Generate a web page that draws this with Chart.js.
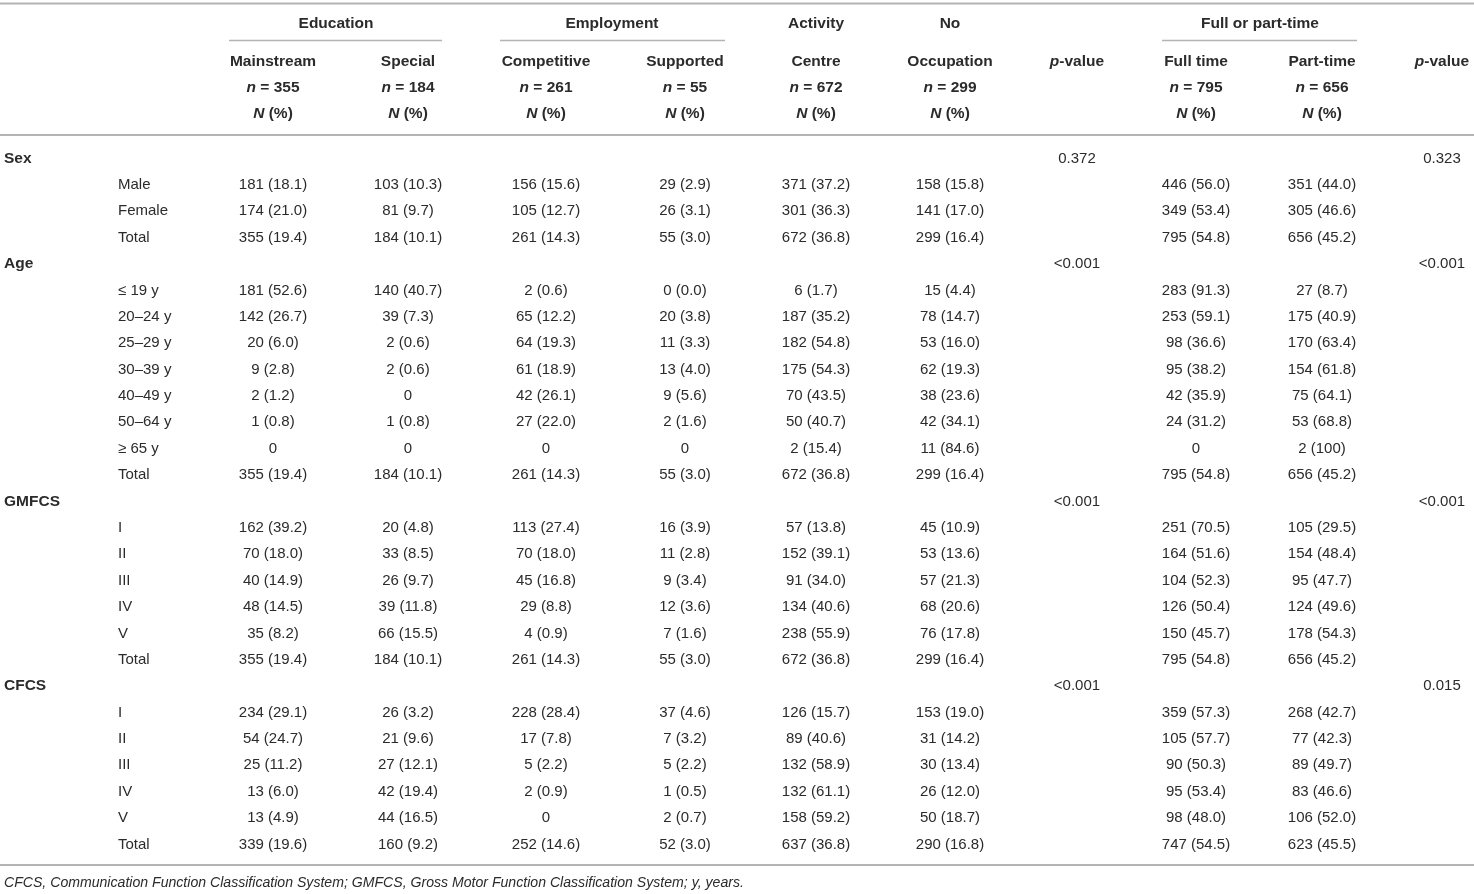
<!DOCTYPE html>
<html>
<head>
<meta charset="utf-8">
<title>Occupation by sex, age, GMFCS and CFCS</title>
<script src="https://cdn.jsdelivr.net/npm/chart.js@4.4.1/dist/chart.umd.min.js"></script>
<style>
  html, body { margin: 0; padding: 0; background: #fff; }
  canvas { display: block; }
</style>
</head>
<body>
<canvas id="tableChart" width="1474" height="894"></canvas>
<script>
// Row groups and their sub rows
const groupLabels = ['Sex', 'Age', 'GMFCS', 'CFCS'];
const sexRows = ['Male', 'Female', 'Total'];
const ageRows = ['\u2264 19 y', '20\u201324 y', '25\u201329 y', '30\u201339 y', '40\u201349 y', '50\u201364 y', '\u2265 65 y', 'Total'];
const gmfcsRows = ['I', 'II', 'III', 'IV', 'V', 'Total'];
const cfcsRows = ['I', 'II', 'III', 'IV', 'V', 'Total'];

// Header texts
const groupHeads = ['Education', 'Employment', 'Activity', 'No', 'Full or part-time'];
const colHeads = ['Mainstream', 'Special', 'Competitive', 'Supported', 'Centre', 'Occupation', 'p-value', 'Full time', 'Part-time', 'p-value'];
const colN = [355, 184, 261, 55, 672, 299, null, 795, 656, null];

// Cell values, one array per column (sub rows only, top to bottom)
const mainstream = ['181 (18.1)', '174 (21.0)', '355 (19.4)', '181 (52.6)', '142 (26.7)', '20 (6.0)', '9 (2.8)', '2 (1.2)', '1 (0.8)', '0', '355 (19.4)', '162 (39.2)', '70 (18.0)', '40 (14.9)', '48 (14.5)', '35 (8.2)', '355 (19.4)', '234 (29.1)', '54 (24.7)', '25 (11.2)', '13 (6.0)', '13 (4.9)', '339 (19.6)'];
const special = ['103 (10.3)', '81 (9.7)', '184 (10.1)', '140 (40.7)', '39 (7.3)', '2 (0.6)', '2 (0.6)', '0', '1 (0.8)', '0', '184 (10.1)', '20 (4.8)', '33 (8.5)', '26 (9.7)', '39 (11.8)', '66 (15.5)', '184 (10.1)', '26 (3.2)', '21 (9.6)', '27 (12.1)', '42 (19.4)', '44 (16.5)', '160 (9.2)'];
const competitive = ['156 (15.6)', '105 (12.7)', '261 (14.3)', '2 (0.6)', '65 (12.2)', '64 (19.3)', '61 (18.9)', '42 (26.1)', '27 (22.0)', '0', '261 (14.3)', '113 (27.4)', '70 (18.0)', '45 (16.8)', '29 (8.8)', '4 (0.9)', '261 (14.3)', '228 (28.4)', '17 (7.8)', '5 (2.2)', '2 (0.9)', '0', '252 (14.6)'];
const supported = ['29 (2.9)', '26 (3.1)', '55 (3.0)', '0 (0.0)', '20 (3.8)', '11 (3.3)', '13 (4.0)', '9 (5.6)', '2 (1.6)', '0', '55 (3.0)', '16 (3.9)', '11 (2.8)', '9 (3.4)', '12 (3.6)', '7 (1.6)', '55 (3.0)', '37 (4.6)', '7 (3.2)', '5 (2.2)', '1 (0.5)', '2 (0.7)', '52 (3.0)'];
const activityCentre = ['371 (37.2)', '301 (36.3)', '672 (36.8)', '6 (1.7)', '187 (35.2)', '182 (54.8)', '175 (54.3)', '70 (43.5)', '50 (40.7)', '2 (15.4)', '672 (36.8)', '57 (13.8)', '152 (39.1)', '91 (34.0)', '134 (40.6)', '238 (55.9)', '672 (36.8)', '126 (15.7)', '89 (40.6)', '132 (58.9)', '132 (61.1)', '158 (59.2)', '637 (36.8)'];
const noOccupation = ['158 (15.8)', '141 (17.0)', '299 (16.4)', '15 (4.4)', '78 (14.7)', '53 (16.0)', '62 (19.3)', '38 (23.6)', '42 (34.1)', '11 (84.6)', '299 (16.4)', '45 (10.9)', '53 (13.6)', '57 (21.3)', '68 (20.6)', '76 (17.8)', '299 (16.4)', '153 (19.0)', '31 (14.2)', '30 (13.4)', '26 (12.0)', '50 (18.7)', '290 (16.8)'];
const fullTime = ['446 (56.0)', '349 (53.4)', '795 (54.8)', '283 (91.3)', '253 (59.1)', '98 (36.6)', '95 (38.2)', '42 (35.9)', '24 (31.2)', '0', '795 (54.8)', '251 (70.5)', '164 (51.6)', '104 (52.3)', '126 (50.4)', '150 (45.7)', '795 (54.8)', '359 (57.3)', '105 (57.7)', '90 (50.3)', '95 (53.4)', '98 (48.0)', '747 (54.5)'];
const partTime = ['351 (44.0)', '305 (46.6)', '656 (45.2)', '27 (8.7)', '175 (40.9)', '170 (63.4)', '154 (61.8)', '75 (64.1)', '53 (68.8)', '2 (100)', '656 (45.2)', '105 (29.5)', '154 (48.4)', '95 (47.7)', '124 (49.6)', '178 (54.3)', '656 (45.2)', '268 (42.7)', '77 (42.3)', '89 (49.7)', '83 (46.6)', '106 (52.0)', '623 (45.5)'];

// p-values, one per row group
const pOccupation = ['0.372', '<0.001', '<0.001', '<0.001'];
const pWorkTime = ['0.323', '<0.001', '<0.001', '0.015'];

const footnote = 'CFCS, Communication Function Classification System; GMFCS, Gross Motor Function Classification System; y, years.';

// ---- layout (pixels of the 1474x894 page) ----
const W = 1474, H = 894;
const ROW_TOP = 157, ROW_STEP = 26.385;
const TEXT_DY = 1.5;
const colX = [273, 408, 546, 685, 816, 950, 1077, 1196, 1322, 1442];
const groupX = [336, 612, 816, 950, 1260];
const groupLines = [[229, 442], [500, 725], [1162, 1357]];
const GROUP_X = 4, ITEM_X = 118;
const FONT = '"Liberation Sans", Arial, Helvetica, sans-serif';
const INK = '#2b2b2b';
const RULE = '#b4b4b4';

function rowOf(px) { return (px - ROW_TOP) / ROW_STEP; }

// build row structure: group rows then their items
const subRowSets = [sexRows, ageRows, gmfcsRows, cfcsRows];
const groupRowIdx = [];
const itemRowIdx = [];
const itemLabels = [];
let r = 0;
groupLabels.forEach((g, gi) => {
    groupRowIdx.push(r++);
    subRowSets[gi].forEach(lbl => {
        itemRowIdx.push(r++);
        itemLabels.push(lbl);
    });
});

function textSet(labels, xs, ys, font, align, extra) {
    return Object.assign({
        data: labels.map((t, i) => ({
            x: Array.isArray(xs) ? xs[i] : xs,
            y: Array.isArray(ys) ? ys[i] : ys,
            label: t
        })).filter(d => d.label !== null),
        font: font,
        align: align || 'center',
        pointRadius: 0,
        showLine: false
    }, extra || {});
}

const valueCols = [mainstream, special, competitive, supported, activityCentre, noOccupation, null, fullTime, partTime, null];
const BOLD = 'bold 15.5px ' + FONT;
const PLAIN = '15px ' + FONT;

const datasets = [];
// header
datasets.push(textSet(groupHeads, groupX, rowOf(22), BOLD));
datasets.push(textSet(colHeads, colX, rowOf(60), BOLD, 'center', { lead: 'p' }));
datasets.push(textSet(colN.map(n => n === null ? null : 'n = ' + n), colX, rowOf(86), BOLD, 'center', { lead: 'n' }));
datasets.push(textSet(colN.map(n => n === null ? null : 'N (%)'), colX, rowOf(112), BOLD, 'center', { lead: 'N' }));
// row labels
datasets.push(textSet(groupLabels, GROUP_X, groupRowIdx, BOLD, 'left'));
datasets.push(textSet(itemLabels, ITEM_X, itemRowIdx, PLAIN, 'left'));
// value columns
valueCols.forEach((col, ci) => {
    if (col) datasets.push(textSet(col, colX[ci], itemRowIdx, PLAIN));
});
datasets.push(textSet(pOccupation, colX[6], groupRowIdx, PLAIN));
datasets.push(textSet(pWorkTime, colX[9], groupRowIdx, PLAIN));
// footnote
datasets.push(textSet([footnote], GROUP_X, rowOf(882), 'italic 14.1px ' + FONT, 'left'));

// draws rules and all cell texts at the positions the scales give
const tablePlugin = {
    id: 'tablePlugin',
    beforeDatasetsDraw(chart) {
        const ctx = chart.ctx;
        const xs = chart.scales.x, ys = chart.scales.y;
        ctx.save();
        ctx.strokeStyle = RULE;
        ctx.lineWidth = 2;
        [3.5, 135, 865].forEach(py => {
            const y = ys.getPixelForValue(rowOf(py));
            ctx.beginPath();
            ctx.moveTo(xs.getPixelForValue(0), y);
            ctx.lineTo(xs.getPixelForValue(W), y);
            ctx.stroke();
        });
        ctx.lineWidth = 1.5;
        groupLines.forEach(([a, b]) => {
            const y = ys.getPixelForValue(rowOf(40.5));
            ctx.beginPath();
            ctx.moveTo(xs.getPixelForValue(a), y);
            ctx.lineTo(xs.getPixelForValue(b), y);
            ctx.stroke();
        });
        ctx.restore();
    },
    afterDatasetsDraw(chart) {
        const ctx = chart.ctx;
        ctx.save();
        ctx.fillStyle = INK;
        ctx.textBaseline = 'middle';
        chart.data.datasets.forEach((ds, di) => {
            const meta = chart.getDatasetMeta(di);
            meta.data.forEach((el, i) => {
                const text = ds.data[i].label;
                const y = el.y + TEXT_DY;
                if (ds.lead && text.charAt(0) === ds.lead) {
                    // italic leading letter, rest plain bold
                    const head = text.charAt(0), rest = text.slice(1);
                    const italicFont = 'italic ' + ds.font;
                    ctx.font = italicFont;
                    const w1 = ctx.measureText(head).width;
                    ctx.font = ds.font;
                    const w2 = ctx.measureText(rest).width;
                    const x0 = el.x - (w1 + w2) / 2;
                    ctx.textAlign = 'left';
                    ctx.font = italicFont;
                    ctx.fillText(head, x0, y);
                    ctx.font = ds.font;
                    ctx.fillText(rest, x0 + w1, y);
                } else {
                    ctx.font = ds.font;
                    ctx.textAlign = ds.align;
                    ctx.fillText(text, el.x, y);
                }
            });
        });
        ctx.restore();
    }
};

const chart = new Chart(document.getElementById('tableChart'), {
    type: 'scatter',
    data: { datasets: datasets },
    options: {
        responsive: false,
        animation: false,
        events: [],
        layout: { padding: 0 },
        plugins: { legend: { display: false }, tooltip: { enabled: false } },
        scales: {
            x: { type: 'linear', min: 0, max: W, display: false },
            y: { type: 'linear', min: rowOf(0), max: rowOf(H), reverse: true, display: false }
        }
    },
    plugins: [tablePlugin]
});
</script>
</body>
</html>
